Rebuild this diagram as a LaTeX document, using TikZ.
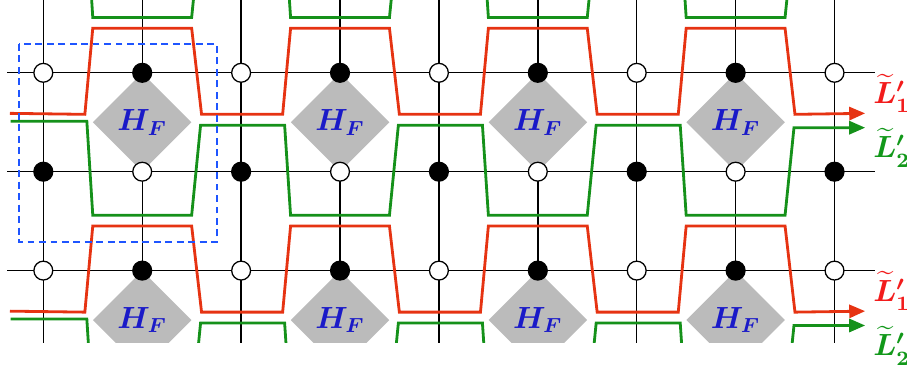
\documentclass[tikz,border=0pt]{standalone}
\usepackage{amsmath,amssymb}
\usetikzlibrary{arrows.meta, positioning, shapes.geometric}
\definecolor{lnRed}{HTML}{E63312}
\definecolor{lnGreen}{HTML}{15911A}
\definecolor{lbRed}{HTML}{F21C1C}
\definecolor{lbGreen}{HTML}{12981A}
\definecolor{boxBlue}{HTML}{1F55FF}
\definecolor{hfBlue}{HTML}{1A1AC8}
\definecolor{dmGray}{HTML}{BBBBBB}
\tikzset{
  gridline/.style={line width=0.55pt, black},
  site/.style={circle, draw=black, line width=0.5pt, minimum size=7.4pt, inner sep=0pt},
  siteB/.style={site, fill=black},
  siteW/.style={site, fill=white},
  hf/.style={diamond, fill=dmGray, minimum width=1.363cm, minimum height=1.363cm,
    inner sep=0pt, text=hfBlue, font=\boldmath\fontsize{11.5pt}{14pt}\selectfont},
  L1/.style={draw=lnRed, line width=1.1pt, -{Triangle[length=2.2mm,width=1.8mm]}},
  L2/.style={L1, draw=lnGreen},
  tag/.style={font=\boldmath\fontsize{11.5pt}{14pt}\selectfont, inner sep=0pt},
  cell/.style={draw=boxBlue, line width=1.15pt, dash pattern=on 2.7pt off 1.8pt},
}

\begin{document}
\begin{tikzpicture}[x=1.363cm, y=1.363cm]
\useasboundingbox (-0.438,-1.985) rectangle (8.733,1.736);

\begin{scope}
\clip (-0.438,-1.729) rectangle (8.733,1.736);

% ── lattice ──────────────────────────────────────────────────────────
\foreach \i in {0,...,8} {
  \coordinate (top\i) at (\i,1.8);
  \coordinate (bot\i) at (\i,-1.8);
  \draw[gridline] (top\i) -- (bot\i);
}
\foreach \j/\n in {1/a,0/b,-1/c} {
  \coordinate (lft\n) at (-0.367,\j);
  \coordinate (rgt\n) at (8.41,\j);
  \draw[gridline] (lft\n) -- (rgt\n);
}

% ── H_F plaquettes ───────────────────────────────────────────────────
\foreach \c in {1,3,5,7} {
  \node[hf] (hf\c-a) at (\c,0.5) {$H_F$};
  \node[hf] (hf\c-b) at (\c,-1.5) {$H_F$};
}

% ── sites (filled / open) ────────────────────────────────────────────
\foreach \i in {0,...,8} \foreach \j/\n in {1/a,0/b,-1/c} {
  \pgfmathtruncatemacro\k{mod(\i+\j+2,2)}
  \ifnum\k=0 \node[siteB] (s\i\n) at (\i,\j) {};
  \else \node[siteW] (s\i\n) at (\i,\j) {}; \fi
}

% ── red / green strands, one band per two rows ───────────────────────
\foreach \b/\n in {2/0,0/1,-2/2} {
  \begin{scope}[shift={(0,\b)}]
    \draw[L1] (-0.337,0.59)
      \foreach \c in {1,3,5,7} {
        -- (\c-0.58,0.58) -- (\c-0.5,1.45) -- (\c+0.5,1.45) -- (\c+0.6,0.58)}
      -- (8.31,0.59) coordinate (r\n);
    \draw[L2] (-0.33,0.51) -- (0.44,0.51)
      \foreach \c in {1,3,5} {
        -- (\c-0.5,-0.44) -- (\c+0.5,-0.44) -- (\c+0.59,0.47) -- (\c+1.44,0.47)}
      -- (6.5,-0.44) -- (7.5,-0.44) -- (7.59,0.445) -- (8.31,0.445) coordinate (g\n);
  \end{scope}
}

% unit cell
\draw[cell] (-0.246,1.291) rectangle (1.756,-0.711);
\end{scope}

% ── strand labels ────────────────────────────────────────────────────
\foreach \n in {1,2} {
  \node[tag, text=lbRed, above right=0pt and 3pt of r\n] (tagR\n) {$\widetilde{L}'_1$};
  \node[tag, text=lbGreen, below right=0pt and 3pt of g\n] (tagG\n) {$\widetilde{L}'_2$};
}

\end{tikzpicture}
\end{document}
